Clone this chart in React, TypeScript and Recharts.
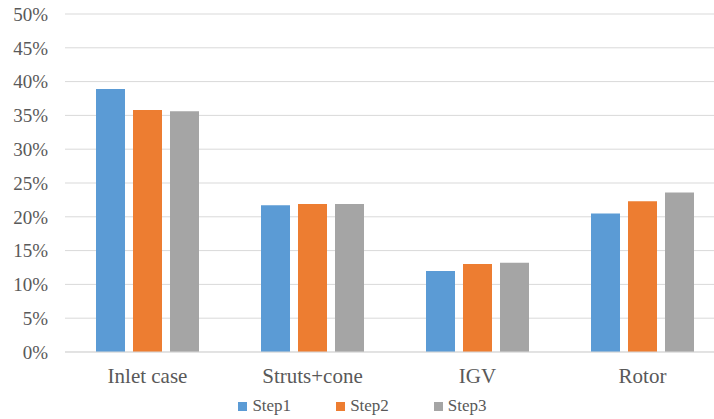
import { BarChart, Bar, XAxis, YAxis, CartesianGrid, Legend } from 'recharts';

const categories = ['Inlet case', 'Struts+cone', 'IGV', 'Rotor'];
const step1 = [38.9, 21.7, 12.0, 20.5];
const step2 = [35.8, 21.9, 13.0, 22.3];
const step3 = [35.6, 21.9, 13.2, 23.6];
const yTicks = [0, 5, 10, 15, 20, 25, 30, 35, 40, 45, 50];

const series = [
  { key: 'step1', name: 'Step1', color: '#5B9BD5' },
  { key: 'step2', name: 'Step2', color: '#ED7D31' },
  { key: 'step3', name: 'Step3', color: '#A5A5A5' },
];

const data = categories.map((name, i) => ({
  name,
  step1: step1[i],
  step2: step2[i],
  step3: step3[i],
}));

const font = 'Liberation Serif';
const textColor = '#595959';

function LegendContent() {
  return (
    <div
      style={{
        height: 22,
        display: 'flex',
        justifyContent: 'center',
        alignItems: 'center',
        fontFamily: font,
        fontSize: 17,
        color: textColor,
        lineHeight: '22px',
      }}
    >
      {series.map((s, i) => (
        <span key={s.key} style={{ display: 'flex', alignItems: 'center', marginRight: i < series.length - 1 ? 45 : 0 }}>
          <span style={{ width: 9, height: 9, background: s.color, marginRight: 5, display: 'inline-block' }} />
          {s.name}
        </span>
      ))}
    </div>
  );
}

export default function App() {
  return (
    <div style={{ position: 'absolute', left: 0, top: 0, width: 714, height: 419, overflow: 'hidden', background: '#fff', fontFamily: font }}>
      <BarChart
        width={725}
        height={419}
        data={data}
        margin={{ top: 14, right: 0, left: 0, bottom: 2 }}
        barSize={29}
        barGap={8}
        style={{ fontFamily: font }}
      >
        <CartesianGrid vertical={false} stroke="#d9d9d9" />
        <XAxis
          dataKey="name"
          height={43}
          tickLine={false}
          tickSize={0}
          tickMargin={16}
          axisLine={{ stroke: '#d9d9d9' }}
          tick={{ fontSize: 21, fill: textColor, fontFamily: font }}
        />
        <YAxis
          width={65}
          domain={[0, 50]}
          ticks={yTicks}
          interval={0}
          axisLine={false}
          tickLine={false}
          tickSize={0}
          tickMargin={17}
          tickFormatter={(v) => `${v}%`}
          tick={{ fontSize: 19, fill: textColor, fontFamily: font }}
        />
        <Legend verticalAlign="bottom" content={<LegendContent />} />
        {series.map((s) => (
          <Bar key={s.key} dataKey={s.key} name={s.name} fill={s.color} isAnimationActive={false} />
        ))}
      </BarChart>
    </div>
  );
}
